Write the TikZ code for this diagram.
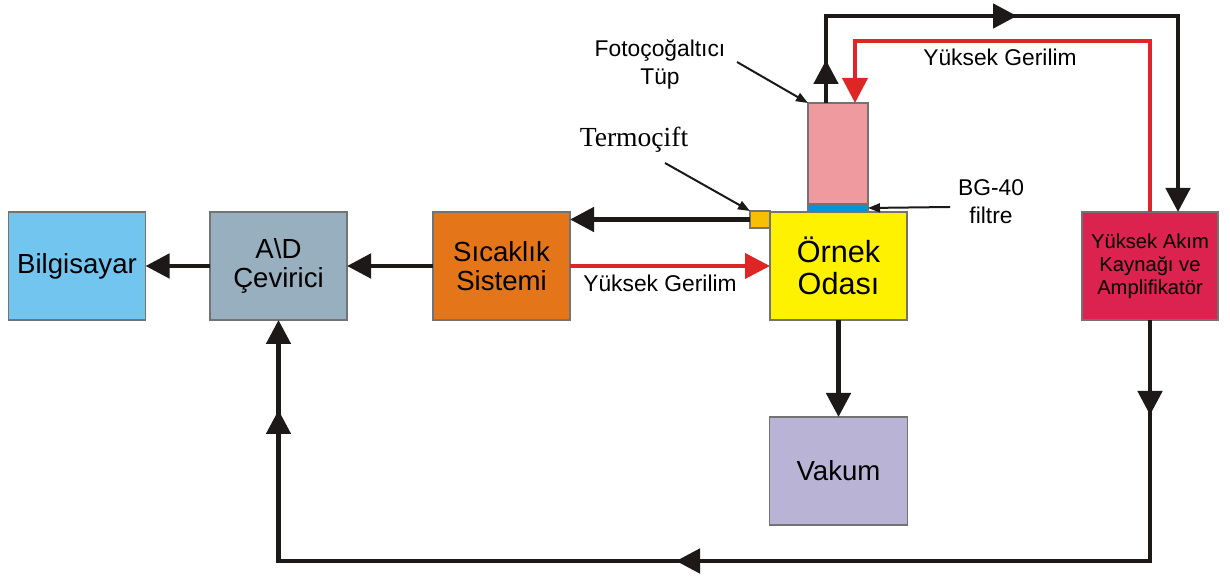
\documentclass[tikz,border=0pt]{standalone}
\usepackage{fontspec}
\setmainfont{Liberation Sans}
\newfontfamily\timesf{Liberation Serif}
\usetikzlibrary{arrows.meta,calc}
\definecolor{cbil}{HTML}{72C5EF}
\definecolor{cad}{HTML}{98AFC0}
\definecolor{csic}{HTML}{E57519}
\definecolor{corn}{HTML}{FFF200}
\definecolor{cyak}{HTML}{DC224E}
\definecolor{cvak}{HTML}{B9B4D6}
\definecolor{cpmt}{HTML}{EF9A9E}
\definecolor{cfilt}{HTML}{0094DA}
\definecolor{ctc}{HTML}{F7C000}
\definecolor{lred}{HTML}{DE2626}
\definecolor{lblack}{HTML}{1E1919}
\begin{document}
\begin{tikzpicture}[x=0.5pt,y=-0.5pt,
  box/.style={draw=black!55, line width=0.6pt, inner sep=0pt, outer sep=0pt, align=center,
    minimum width=68.5pt, minimum height=54pt},
  bigtxt/.style={font=\fontsize{13.8}{14.5}\selectfont},
  conn/.style={line width=2.4pt, draw=lblack, -{Triangle[length=12pt,width=12pt]}},
  plainline/.style={line width=2.4pt, draw=lblack},
  rconn/.style={line width=2pt, draw=lred, -{Triangle[length=12.5pt,width=12.5pt]}},
  ann/.style={line width=1pt, draw=lblack, -{Triangle[length=6pt,width=4.5pt]}},
  lab/.style={font=\fontsize{11.4}{14}\selectfont, align=center, inner sep=0pt}]
\useasboundingbox (0,0) rectangle (1230,576);

% boxes
\node[box, bigtxt, fill=cbil] (bil) at (77,266) {Bilgisayar};
\node[box, bigtxt, fill=cad] (ad) at (278.5,266) {A\textbackslash D\\Çevirici};
\node[box, bigtxt, fill=csic] (sic) at (501.5,266) {Sıcaklık\\Sistemi};
\node[box, font=\fontsize{15.3}{16}\selectfont, fill=corn] (orn) at (838.5,266) {Örnek\\Odası};
\node[box, font=\fontsize{10.1}{11.5}\selectfont, fill=cyak, minimum width=68pt] (yak) at (1150,266) {Yüksek Akım\\Kaynağı ve\\Amplifikatör};
\node[box, bigtxt, fill=cvak, minimum width=69pt] (vak) at (838.5,471) {Vakum};
\node[box, fill=cpmt, minimum width=30pt, minimum height=50.5pt] (pmt) at (838,153.5) {};
\node[box, fill=cfilt, minimum width=30pt, minimum height=4pt] (filt) at (838,208) {};
\node[box, fill=ctc, minimum width=10pt, minimum height=8.5pt] (tc) at (760,219.5) {};

% labels
\node[lab] (hv1) at (660,283) {Yüksek Gerilim};
\node[lab] (hv2) at (1000,57) {Yüksek Gerilim};
\node[lab] (fotol) at (660,64) {Fotoçoğaltıcı\\Tüp};
\node[lab] (bgl) at (991,202) {BG-40\\filtre};
\node[inner sep=0pt, font=\timesf\fontsize{13.8}{15}\selectfont] (terml) at (634,140) {Termoçift};

% main connectors
\draw[conn] (tc.west) -- (tc.west -| sic.east);
\draw[conn] (sic.west) -- (ad.east);
\draw[conn] (ad.west) -- (bil.east);
\draw[rconn] (sic.east) -- (orn.west);
\draw[conn] (orn.south) -- (vak.north);

% top black loop
\coordinate (a1) at (826,60);
\coordinate (a2) at (1017,16);
\draw[conn] ([xshift=-6pt]pmt.north) |- (a2) -| ([xshift=14pt]yak.north);
\draw[conn] ($(a1)+(0,40)$) -- (a1);
\draw[conn] ($(a2)+(-50,0)$) -- (a2);

% red loop
\coordinate (rc) at (855,41);
\draw[rconn] (yak.north) |- (rc) -- ([xshift=8.5pt]pmt.north);

% bottom loop
\coordinate (b1) at (1150,415);
\coordinate (b2) at (676,561);
\coordinate (b3) at (278.5,410);
\draw[conn] (yak.south) |- (b2) -| (ad.south);
\draw[conn] ($(b1)+(0,-50)$) -- (b1);
\draw[conn] ($(b2)+(50,0)$) -- (b2);
\draw[conn] ($(b3)+(0,50)$) -- (b3);

% annotation arrows
\coordinate (fa) at (737,62);
\coordinate (ta) at (665,163);
\coordinate (ba) at (950,207);
\draw[ann] (fa) -- (pmt.north west);
\draw[ann] (ta) -- (tc.north west);
\draw[ann] (ba) -- (filt.east);
\end{tikzpicture}
\end{document}
